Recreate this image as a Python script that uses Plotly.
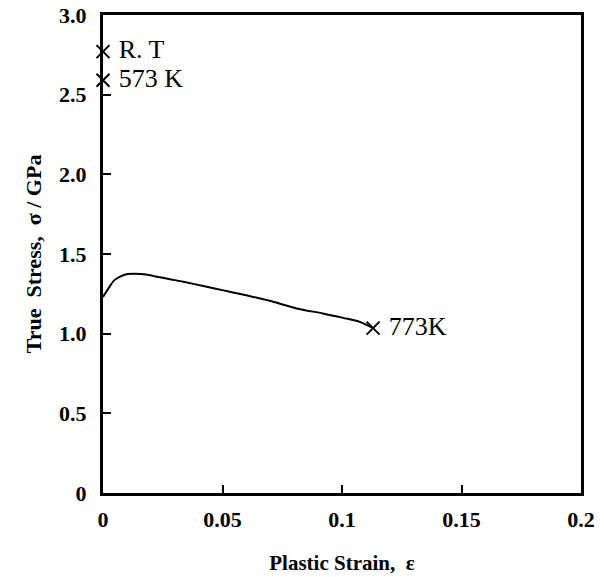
import plotly.graph_objects as go

# Data
strain_773 = [0.0, 0.0027, 0.0048, 0.0076, 0.0104, 0.016, 0.0216, 0.030, 0.0383,
              0.0467, 0.0544, 0.0614, 0.0698, 0.081, 0.092, 0.1005, 0.1075, 0.113]
stress_773 = [1.23, 1.294, 1.336, 1.361, 1.374, 1.374, 1.361, 1.336, 1.311,
              1.284, 1.259, 1.236, 1.206, 1.158, 1.127, 1.099, 1.074, 1.035]

fracture_labels = ["R. T", "573 K", "773K"]
fracture_strain = [0.0, 0.0, 0.113]
fracture_stress = [2.77, 2.59, 1.035]

x_ticks = [0, 0.05, 0.1, 0.15, 0.2]
x_ticktext = ["0", "0.05", "0.1", "0.15", "0.2"]
y_ticks = [0, 0.5, 1.0, 1.5, 2.0, 2.5, 3.0]
y_ticktext = ["0", "0.5", "1.0", "1.5", "2.0", "2.5", "3.0"]

serif = "Liberation Serif, Times New Roman, serif"

fig = go.Figure()
fig.add_trace(go.Scatter(
    x=strain_773, y=stress_773, mode="lines",
    line=dict(color="black", width=2, shape="spline", smoothing=0.8),
    showlegend=False, hoverinfo="skip"))
fig.add_trace(go.Scatter(
    x=fracture_strain, y=fracture_stress, mode="markers+text",
    marker=dict(symbol="x-thin-open", size=13, color="black",
                line=dict(color="black", width=2)),
    text=[" " + t for t in fracture_labels], textposition="middle right",
    textfont=dict(family=serif, size=26, color="black"),
    cliponaxis=False, showlegend=False, hoverinfo="skip"))

fig.update_layout(
    width=604, height=577,
    margin=dict(l=103, r=23, t=15, b=84, autoexpand=False),
    paper_bgcolor="white", plot_bgcolor="white",
    font=dict(family=serif, color="black"),
)
fig.update_xaxes(
    range=[0, 0.2], tickvals=x_ticks, ticktext=x_ticktext,
    ticks="inside", ticklen=8, tickwidth=2, tickcolor="black",
    showline=True, linewidth=3, linecolor="black", mirror=True,
    showgrid=False, zeroline=False, automargin=False,
    tickfont=dict(family=serif, size=22, color="black", weight="bold"),
    ticklabelstandoff=5, ticklabeloverflow="allow",
    title=dict(text="<b>Plastic Strain,  ε</b>", font=dict(family=serif, size=21, color="black"), standoff=24),
)
fig.update_yaxes(
    range=[0, 3.0], tickvals=y_ticks, ticktext=y_ticktext,
    ticks="inside", ticklen=8, tickwidth=2, tickcolor="black",
    showline=True, linewidth=3, linecolor="black", mirror=True,
    showgrid=False, zeroline=False, automargin=False,
    tickfont=dict(family=serif, size=22, color="black", weight="bold"),
    ticklabelstandoff=9, ticklabeloverflow="allow",
    title=dict(text="<b>True  Stress,  σ / GPa</b>", font=dict(family=serif, size=22, color="black"), standoff=12),
)

# remove the default page margin so the figure fills the window exactly
fig.write_html("out.html", config={"displayModeBar": False},
               post_script="document.body.style.margin='0';")
